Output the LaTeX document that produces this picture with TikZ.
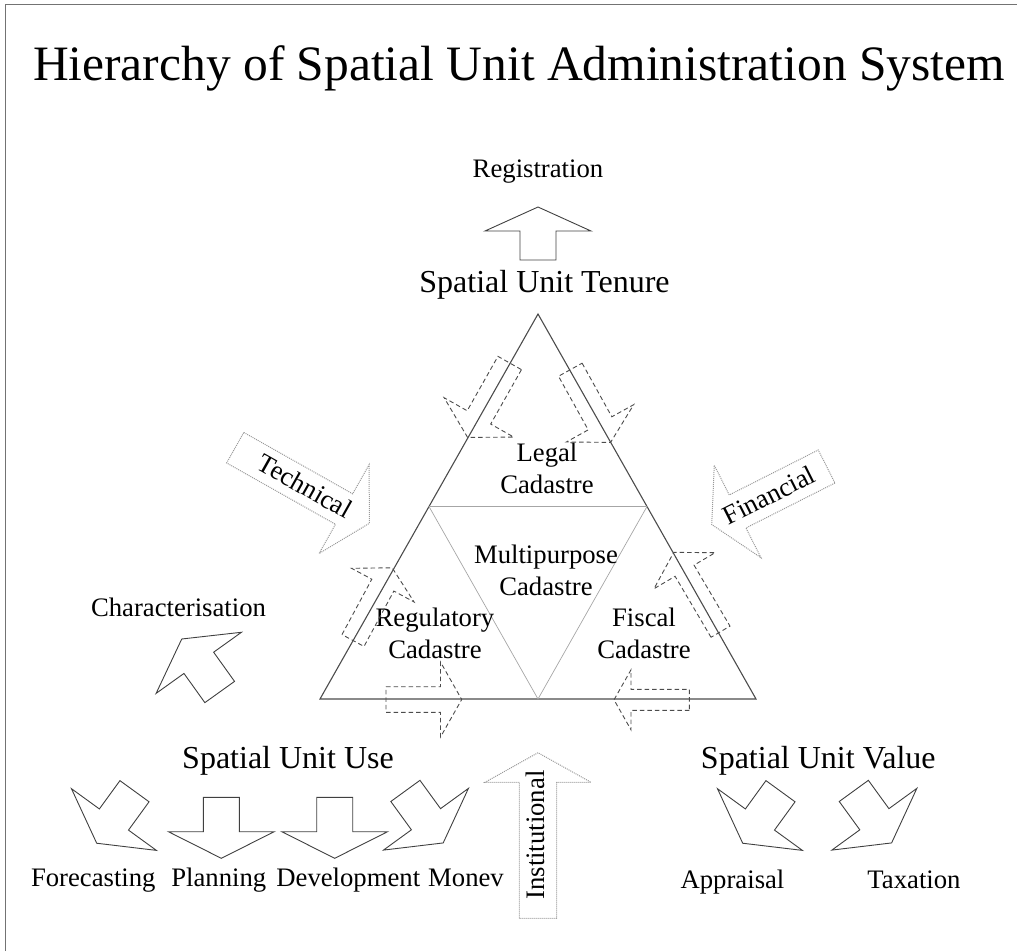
\documentclass[tikz,border=0pt]{standalone}
\usepackage{fontspec}
\setmainfont{Liberation Serif}
\usepackage{tikz}
% block arrow: [style]{tail x,y}{angle}{shaft len}{shaft w}{head len}{head w}
\newcommand{\blockarrow}[7][]{%
  \draw[#1, shift={(#2)}, rotate=#3]
    (0,{-(#5)/2}) -- ({#4},{-(#5)/2}) -- ({#4},{-(#7)/2})
    -- ({(#4)+(#6)},0) -- ({#4},{(#7)/2}) -- ({#4},{(#5)/2})
    -- (0,{(#5)/2}) -- cycle;}
\tikzset{
  solidarr/.style={draw=black!75, line width=0.9pt},
  dasharr/.style={draw=black!70, line width=0.9pt, dash pattern=on 4.5pt off 3pt},
  dotarr/.style={draw=black!40, line width=1pt, densely dotted},
  lbl/.style={font=\fontsize{26.7}{32}\selectfont, inner sep=0pt},
  heading/.style={font=\fontsize{32}{38}\selectfont, inner sep=0pt},
  bigtitle/.style={font=\fontsize{49.5}{56}\selectfont, inner sep=0pt},
}

\begin{document}
\begin{tikzpicture}[x=1pt, y=-1pt]
    \useasboundingbox (0,0) rectangle (1017,951);
    % Page frame (top and left only)
    \draw[black!55, line width=1pt] (5,951) -- (5,4) -- (1017,4);

    % Title
    \node[bigtitle, anchor=base] (title) at (519,80) {Hierarchy of Spatial Unit Administration System};

    % Tenure corner
    \node[lbl, anchor=base] (reg) at (538,177) {Registration};
    \blockarrow[solidarr]{538,260}{90}{29}{36}{24}{106}
    \node[heading, anchor=base] (tenure) at (544.5,292) {Spatial Unit Tenure};

    % Triangle and inner triangle
    \draw[black!70, line width=1.1pt] (538,314) -- (320,699) -- (756,699) -- cycle;
    \draw[black!35, line width=0.7pt] (429,506.5) -- (647,506.5) -- (538,699) -- cycle;

    % Cadastre labels
    \node[lbl, align=center] (legal) at (547,468) {Legal\\Cadastre};
    \node[lbl, align=center] (multi) at (546,570) {Multipurpose\\Cadastre};
    \node[lbl, align=center] (regul) at (435,633.4) {Regulatory\\Cadastre};
    \node[lbl, align=center] (fiscal) at (644,633.4) {Fiscal\\Cadastre};

    % Dashed flows along the triangle
    \blockarrow[dasharr]{509.7,363}{240.5}{62.5}{27}{23}{80}
    \blockarrow[dasharr]{570.3,369.7}{299}{61.3}{27}{21.8}{77}
    \blockarrow[dasharr]{353,640.5}{61.7}{62.9}{25}{19.7}{71}
    \blockarrow[dasharr]{720.5,631.7}{120.5}{70.8}{22}{21.3}{71}
    \blockarrow[dasharr]{386,699.5}{0}{54.5}{25.6}{21.2}{75}
    \blockarrow[dasharr]{689.3,699.8}{180}{58.3}{21}{17}{60}

    % Technical / Financial / Institutional inputs
    \blockarrow[dotarr]{235.2,447.7}{-29.4}{125}{35}{29}{102}
    \node[lbl, rotate=-29.4] (tech) at (305,486) {Technical};
    \blockarrow[dotarr]{826.6,466.5}{206.8}{99.7}{37}{29}{103.6}
    \node[lbl, rotate=26.8] (fin) at (769,495) {Financial};
    \blockarrow[dotarr]{538,918.3}{90}{136}{37.4}{29.6}{106}
    \node[lbl, rotate=90] (inst) at (535,835) {Institutional};

    % Use corner
    \node[lbl, anchor=base] (charac) at (178.5,616) {Characterisation};
    \blockarrow[solidarr]{219.7,692}{125.6}{35.9}{36.5}{29.3}{105}
    \node[heading, anchor=base] (use) at (288,768) {Spatial Unit Use};
    \blockarrow[solidarr]{134.5,791.2}{234}{35}{36}{29.3}{105}
    \blockarrow[solidarr]{221.3,797.3}{270}{34.4}{36}{26.6}{105.7}
    \blockarrow[solidarr]{334.7,797.3}{270}{34.4}{36}{26.6}{105.7}
    \blockarrow[solidarr]{405.4,790.9}{306}{35}{36}{29.3}{105}
    \node[lbl, anchor=base] (fore) at (93.3,886.7) {Forecasting};
    \node[lbl, anchor=base] (plan) at (218.8,886.7) {Planning};
    \node[lbl, anchor=base] (devel) at (348.3,886.7) {Development};
    \node[lbl, anchor=base] (monev) at (466,886.7) {Monev};

    % Value corner
    \node[heading, anchor=base] (value) at (818.3,768) {Spatial Unit Value};
    \blockarrow[solidarr]{780.5,791.2}{234}{35}{36}{29.3}{105}
    \blockarrow[solidarr]{853.8,790.9}{306}{35}{36}{29.3}{105}
    \node[lbl, anchor=base] (appr) at (732.5,888.3) {Appraisal};
    \node[lbl, anchor=base] (tax) at (914,888.3) {Taxation};
\end{tikzpicture}
\end{document}
